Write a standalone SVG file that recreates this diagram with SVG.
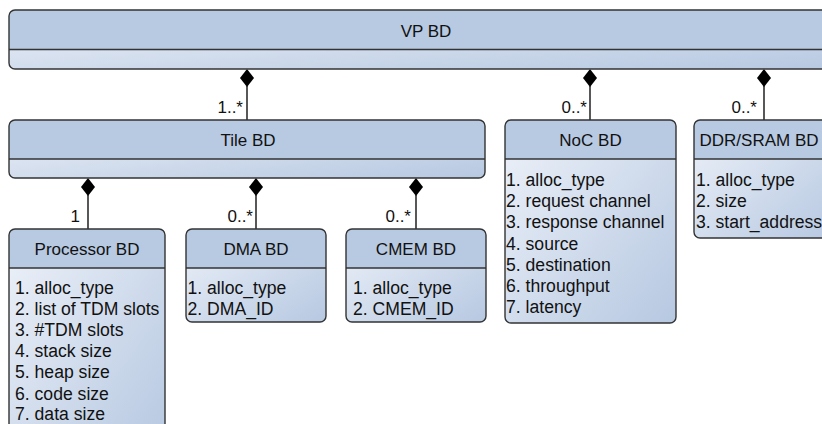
<svg xmlns="http://www.w3.org/2000/svg" width="822" height="424" viewBox="0 0 822 424">
  <defs>
    <linearGradient id="bodyFill" x1="0" y1="0" x2="1" y2="1">
      <stop offset="0" stop-color="#eef2f9"/>
      <stop offset="1" stop-color="#b6c8e1"/>
    </linearGradient>
    <style>
      .body { fill: url(#bodyFill); }
      .head { fill: #b8c9e2; }
      .frame { fill: none; stroke: #333; stroke-width: 1.4; }
      .div { stroke: #333; stroke-width: 1.4; }
      text { font-family: "Liberation Sans", Arial, sans-serif; font-size: 17px; fill: #111; }
      .item { font-size: 17.6px; }
      .title { text-anchor: middle; }
      .mult { text-anchor: end; }
      .link { stroke: #111; stroke-width: 1.4; fill: none; }
      .dia { fill: #000; }
    </style>
  </defs>

  <!-- composition links with filled diamonds at the owner side -->
  <g id="connectors">
    <line class="link" x1="247" y1="86" x2="247" y2="120"/>
    <polygon class="dia" points="247,69 254,78 247,87 240,78"/>
    <text class="mult" x="243" y="113">1..*</text>

    <line class="link" x1="590" y1="86" x2="590" y2="120"/>
    <polygon class="dia" points="590,69 597,78 590,87 583,78"/>
    <text class="mult" x="587" y="113">0..*</text>

    <line class="link" x1="764" y1="86" x2="764" y2="120"/>
    <polygon class="dia" points="764,69 771,78 764,87 757,78"/>
    <text class="mult" x="757" y="113">0..*</text>

    <line class="link" x1="88" y1="195" x2="88" y2="229"/>
    <polygon class="dia" points="88,178 95,187 88,196 81,187"/>
    <text class="mult" x="80" y="222">1</text>

    <line class="link" x1="256" y1="195" x2="256" y2="229"/>
    <polygon class="dia" points="256,178 263,187 256,196 249,187"/>
    <text class="mult" x="253" y="222">0..*</text>

    <line class="link" x1="416" y1="195" x2="416" y2="229"/>
    <polygon class="dia" points="416,178 423,187 416,196 409,187"/>
    <text class="mult" x="411" y="222">0..*</text>
  </g>

  <!-- VP BD -->
  <g id="vp">
    <rect class="body" x="9" y="10" width="834" height="59" rx="6"/>
    <path class="head" d="M9,49.5 V16 Q9,10 15,10 H837 Q843,10 843,16 V49.5 Z"/>
    <line class="div" x1="9" y1="49.5" x2="843" y2="49.5"/>
    <rect class="frame" x="9" y="10" width="834" height="59" rx="6"/>
    <text class="title" x="426" y="37">VP BD</text>
  </g>

  <!-- Tile BD -->
  <g id="tile">
    <rect class="body" x="9" y="120" width="476" height="58" rx="6"/>
    <path class="head" d="M9,159 V126 Q9,120 15,120 H479 Q485,120 485,126 V159 Z"/>
    <line class="div" x1="9" y1="159" x2="485" y2="159"/>
    <rect class="frame" x="9" y="120" width="476" height="58" rx="6"/>
    <text class="title" x="248" y="145.5">Tile BD</text>
  </g>

  <!-- NoC BD -->
  <g id="noc">
    <rect class="body" x="505" y="120" width="171" height="203" rx="6"/>
    <path class="head" d="M505,159 V126 Q505,120 511,120 H670 Q676,120 676,126 V159 Z"/>
    <line class="div" x1="505" y1="159" x2="676" y2="159"/>
    <rect class="frame" x="505" y="120" width="171" height="203" rx="6"/>
    <text class="title" x="590.5" y="145.5">NoC BD</text>
    <text class="item" x="506" y="186">1. alloc_type</text>
    <text class="item" x="506" y="207.2">2. request channel</text>
    <text class="item" x="506" y="228.4">3. response channel</text>
    <text class="item" x="506" y="249.6">4. source</text>
    <text class="item" x="506" y="270.8">5. destination</text>
    <text class="item" x="506" y="292">6. throughput</text>
    <text class="item" x="506" y="313.2">7. latency</text>
  </g>

  <!-- DDR/SRAM BD -->
  <g id="ddr">
    <rect class="body" x="694" y="120" width="140" height="118" rx="6"/>
    <path class="head" d="M694,159 V126 Q694,120 700,120 H828 Q834,120 834,126 V159 Z"/>
    <line class="div" x1="694" y1="159" x2="834" y2="159"/>
    <rect class="frame" x="694" y="120" width="140" height="118" rx="6"/>
    <text class="title" x="759" y="145.5">DDR/SRAM BD</text>
    <text class="item" x="696" y="186">1. alloc_type</text>
    <text class="item" x="696" y="207.2">2. size</text>
    <text class="item" x="696" y="228.4">3. start_address</text>
  </g>

  <!-- Processor BD -->
  <g id="processor">
    <rect class="body" x="9" y="229" width="156" height="220" rx="6"/>
    <path class="head" d="M9,268 V235 Q9,229 15,229 H159 Q165,229 165,235 V268 Z"/>
    <line class="div" x1="9" y1="268" x2="165" y2="268"/>
    <rect class="frame" x="9" y="229" width="156" height="220" rx="6"/>
    <text class="title" x="87" y="255">Processor BD</text>
    <text class="item" x="15" y="294">1. alloc_type</text>
    <text class="item" x="15" y="315.1">2. list of TDM slots</text>
    <text class="item" x="15" y="336.2">3. #TDM slots</text>
    <text class="item" x="15" y="357.3">4. stack size</text>
    <text class="item" x="15" y="378.4">5. heap size</text>
    <text class="item" x="15" y="399.5">6. code size</text>
    <text class="item" x="15" y="419.6">7. data size</text>
  </g>

  <!-- DMA BD -->
  <g id="dma">
    <rect class="body" x="186" y="229" width="140" height="93" rx="6"/>
    <path class="head" d="M186,268 V235 Q186,229 192,229 H320 Q326,229 326,235 V268 Z"/>
    <line class="div" x1="186" y1="268" x2="326" y2="268"/>
    <rect class="frame" x="186" y="229" width="140" height="93" rx="6"/>
    <text class="title" x="256" y="255">DMA BD</text>
    <text class="item" x="187.5" y="294">1. alloc_type</text>
    <text class="item" x="187.5" y="315.1">2. DMA_ID</text>
  </g>

  <!-- CMEM BD -->
  <g id="cmem">
    <rect class="body" x="346" y="229" width="140" height="93" rx="6"/>
    <path class="head" d="M346,268 V235 Q346,229 352,229 H480 Q486,229 486,235 V268 Z"/>
    <line class="div" x1="346" y1="268" x2="486" y2="268"/>
    <rect class="frame" x="346" y="229" width="140" height="93" rx="6"/>
    <text class="title" x="416" y="255">CMEM BD</text>
    <text class="item" x="353" y="294">1. alloc_type</text>
    <text class="item" x="353" y="315.1">2. CMEM_ID</text>
  </g>
</svg>
